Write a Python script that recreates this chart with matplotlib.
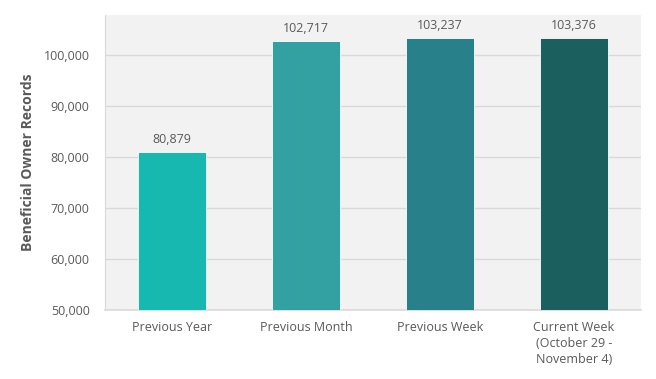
import matplotlib
matplotlib.use("Agg")
import matplotlib.pyplot as plt

categories = ["Previous Year", "Previous Month", "Previous Week", "Current Week\n(October 29 -\nNovember 4)"]
values = [80879, 102717, 103237, 103376]
colors = ["#17b8b0", "#33a0a1", "#28818a", "#1b5f5e"]
yticks = [50000, 60000, 70000, 80000, 90000, 100000]

plt.rcParams['font.family'] = ['Open Sans', 'DejaVu Sans']
txt = "#595959"

fig = plt.figure(figsize=(6.56, 3.79), dpi=100)
ax = fig.add_axes([0.160, 0.182, 0.817, 0.778])
ax.set_facecolor("#f2f2f2")
x = range(len(categories))
ax.bar(x, values, width=0.51, color=colors, edgecolor="white", linewidth=0.6, zorder=3)
for xi, v in zip(x, values):
    ax.text(xi, v + 1200, f"{v:,}", ha="center", va="bottom", fontsize=9, color=txt)

ax.set_ylim(50000, 107800)
ax.set_xlim(-0.5, 3.5)
ax.set_yticks(yticks)
ax.set_yticklabels([f"{t:,}" for t in yticks])
ax.yaxis.grid(True, color="#d9d9d9", linewidth=1, zorder=0)
ax.set_xticks(list(x))
ax.set_xticklabels(categories, fontsize=9, color=txt, linespacing=1.3)
ax.tick_params(axis="y", labelsize=9, labelcolor=txt, length=0, pad=11)
ax.tick_params(axis="x", length=0, pad=8)
for s in ["top", "right"]:
    ax.spines[s].set_visible(False)
ax.spines["left"].set_color("#d9d9d9")
ax.spines["bottom"].set_color("#d9d9d9")
ax.spines["bottom"].set_linewidth(1.2)
ax.set_ylabel("Beneficial Owner Records", fontsize=10, fontweight="bold", color=txt, labelpad=6)

fig.savefig("out.png", dpi=100, facecolor="white")
